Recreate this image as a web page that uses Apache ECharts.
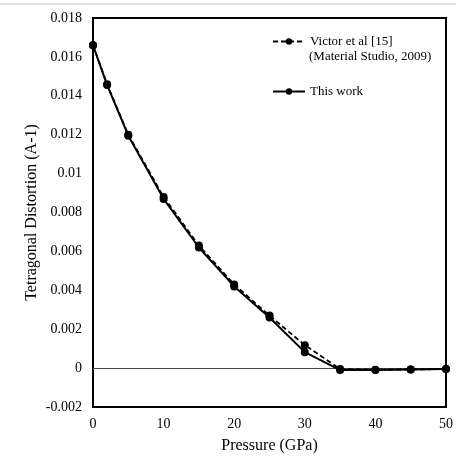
<!DOCTYPE html>
<html><head><meta charset="utf-8">
<script src="https://cdn.jsdelivr.net/npm/echarts@6/dist/echarts.min.js"></script>
<style>html,body{margin:0;padding:0;background:#fff}#c{width:456px;height:465px}</style>
</head><body><div id="c"></div>
<script>
var pressure = [0, 2, 5, 10, 15, 20, 25, 30, 35, 40, 45, 50];
var victor = [0.0166, 0.0146, 0.0120, 0.0088, 0.0063, 0.0043, 0.0027, 0.00118, -0.00005, -0.00008, -0.00007, -0.00005];
var thisWork = [0.0166, 0.01455, 0.01195, 0.0087, 0.0062, 0.0042, 0.0026, 0.00082, -0.0001, -0.0001, -0.00007, -0.00005];
var yTicks = [-0.002, 0.018, 0.002];
var xTicks = [0, 50, 10];
var nameVictor = 'Victor et al [15]';
var noteVictor = '(Material Studio, 2009)';
var nameThis = 'This work';
function pairs(xs, ys){ return xs.map(function(x,i){return [x, ys[i]];}); }
var font = 'Liberation Serif';
var chart = echarts.init(document.getElementById('c'), null, {renderer:'canvas'});
chart.setOption({
  animation:false,
  backgroundColor:'#fff',
  textStyle:{fontFamily:font},
  grid:{left:93, top:18, right:9, bottom:58, show:true, borderColor:'#000', borderWidth:2, backgroundColor:'transparent'},
  legend:[{
    data:[nameVictor], left:267, top:30, itemWidth:32, itemHeight:8,
    textStyle:{fontFamily:font, fontSize:13, color:'#000'}
  },{
    data:[nameThis], left:267, top:80, itemWidth:32, itemHeight:8,
    textStyle:{fontFamily:font, fontSize:13, color:'#000'}
  }],
  xAxis:{type:'value', min:xTicks[0], max:xTicks[1], interval:xTicks[2],
    name:'Pressure (GPa)', nameLocation:'middle', nameGap:31,
    nameTextStyle:{fontFamily:font, fontSize:16, color:'#000'},
    axisLine:{show:true, onZero:false, lineStyle:{color:'#000', width:2}},
    axisTick:{show:false}, splitLine:{show:false},
    axisLabel:{fontFamily:font, fontSize:14, color:'#000', margin:10}},
  yAxis:{type:'value', min:yTicks[0], max:yTicks[1], interval:yTicks[2],
    name:'Tetragonal Distortion (A-1)', nameLocation:'middle', nameGap:53, nameMoveOverlap:false,
    nameTextStyle:{fontFamily:font, fontSize:16, color:'#000'},
    axisLine:{show:true, lineStyle:{color:'#000', width:2}},
    axisTick:{show:false}, splitLine:{show:false},
    axisLabel:{fontFamily:font, fontSize:14, color:'#000', margin:11,
      formatter:function(v){ return String(parseFloat(v.toFixed(6))); }}},
  graphic:[
    {type:'line', shape:{x1:0,y1:4,x2:456,y2:4}, style:{stroke:'#c8c8c8', lineWidth:1}, z:100},
    {type:'text', left:309, top:50, style:{text:noteVictor, font:'13px "Liberation Serif"', fill:'#000'}}
  ],
  series:[{
    name:nameVictor, type:'line', data:pairs(pressure, victor),
    symbol:'circle', symbolSize:8, itemStyle:{color:'#000'},
    lineStyle:{color:'#000', width:1.8, type:[5,3]}, z:3,
    markLine:{silent:true, symbol:'none', label:{show:false}, lineStyle:{color:'#444', width:1, type:'solid'}, data:[{yAxis:0}], z:1}
  },{
    name:nameThis, type:'line', data:pairs(pressure, thisWork),
    symbol:'circle', symbolSize:8, itemStyle:{color:'#000'},
    lineStyle:{color:'#000', width:2, type:'solid'}, z:4
  }]
});
</script></body></html>
